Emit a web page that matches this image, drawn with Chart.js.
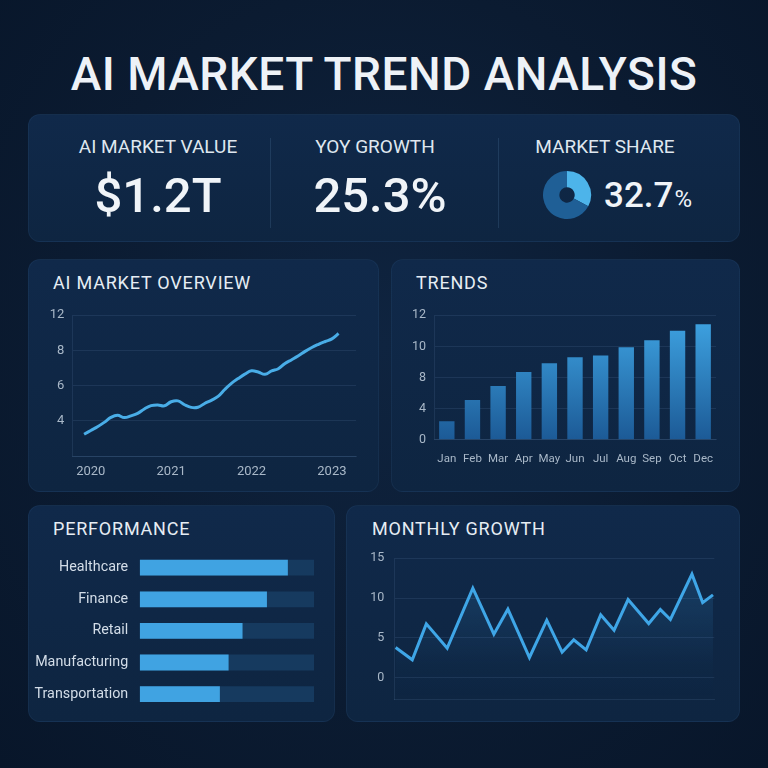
<!DOCTYPE html>
<html>
<head>
<meta charset="utf-8">
<script src="https://cdn.jsdelivr.net/npm/chart.js@4.4.1/dist/chart.umd.min.js"></script>
<style>
  html, body { margin: 0; padding: 0; }
  body {
    width: 768px; height: 768px; position: relative; overflow: hidden;
    background: radial-gradient(ellipse at 50% 45%, #0f2440 0%, #0b1b31 60%, #08162a 100%);
    font-family: Roboto, 'Noto Sans', sans-serif; color: #e9eef5;
  }
  .panel {
    position: absolute; box-sizing: border-box; border-radius: 12px;
    background: linear-gradient(180deg, #10294a 0%, #0e2541 100%);
    border: 1px solid rgba(120, 170, 220, 0.07);
  }
  .title {
    position: absolute; left: 0; top: 51px; width: 768px; text-align: center;
    font-size: 46px; line-height: 46px; font-weight: 500; letter-spacing: 0.5px; color: #eef2f7;
  }
  .ptitle { position: absolute; font-size: 18px; line-height: 18px; letter-spacing: 0.8px; color: #e6edf4; }
  .kpi-label { position: absolute; width: 240px; text-align: center; font-size: 19px; line-height: 19px; color: #dfe7ef; }
  .kpi-value { position: absolute; width: 240px; text-align: center; font-size: 49px; line-height: 49px; font-weight: 500; color: #f0f4f8; }
  .divider { position: absolute; width: 1px; top: 138px; height: 90px; background: rgba(120, 165, 210, 0.16); }
  .box { position: absolute; }
  .share { position: absolute; left: 604px; top: 178px; font-size: 35px; line-height: 35px; font-weight: 500; color: #f0f4f8; }
  .share small { font-size: 24px; font-weight: 400; margin-left: 1px; }
</style>
</head>
<body>
<div class="title">AI MARKET TREND ANALYSIS</div>

<div class="panel" style="left:28px; top:114px; width:712px; height:128px;"></div>
<div class="kpi-label" style="left:38px; top:137px;">AI MARKET VALUE</div>
<div class="kpi-value" style="left:38px; top:171px;">$1.2T</div>
<div class="divider" style="left:270px;"></div>
<div class="kpi-label" style="left:255px; top:137px;">YOY GROWTH</div>
<div class="kpi-value" style="left:260px; top:171px;">25.3%</div>
<div class="divider" style="left:498px;"></div>
<div class="kpi-label" style="left:485px; top:137px;">MARKET SHARE</div>
<div class="box" style="left:542px; top:170px; width:50px; height:50px;"><canvas id="share-chart"></canvas></div>
<div class="share">32.7<small>%</small></div>

<div class="panel" style="left:28px; top:259px; width:351px; height:233px;"></div>
<div class="ptitle" style="left:53px; top:274px;">AI MARKET OVERVIEW</div>
<div class="box" style="left:36px; top:300px; width:330px; height:190px;"><canvas id="overview-chart"></canvas></div>

<div class="panel" style="left:391px; top:259px; width:349px; height:233px;"></div>
<div class="ptitle" style="left:416px; top:274px;">TRENDS</div>
<div class="box" style="left:396px; top:300px; width:340px; height:190px;"><canvas id="trend-chart"></canvas></div>

<div class="panel" style="left:28px; top:505px; width:307px; height:217px;"></div>
<div class="ptitle" style="left:53px; top:520px;">PERFORMANCE</div>
<div class="box" style="left:30px; top:545px; width:300px; height:170px;"><canvas id="perf-chart"></canvas></div>

<div class="panel" style="left:346px; top:505px; width:394px; height:217px;"></div>
<div class="ptitle" style="left:372px; top:520px;">MONTHLY GROWTH</div>
<div class="box" style="left:350px; top:545px; width:386px; height:167px;"><canvas id="growth-chart"></canvas></div>

<script>
// ── DATA ─────────────────────────────────────────

const shareLabels = ['Share', 'Rest'];
const shareValues = [32.7, 67.3];

// monthly points, Dec 2019 .. Feb 2023
const overviewStartYear = 2019 + 11 / 12;
const overviewValues = [
  3.25, 3.46, 3.67, 3.92, 4.2, 4.32, 4.19, 4.29, 4.43, 4.68,
  4.87, 4.91, 4.86, 5.09, 5.14, 4.92, 4.77, 4.78, 4.99, 5.17,
  5.39, 5.78, 6.13, 6.4, 6.65, 6.84, 6.77, 6.64, 6.83, 6.96,
  7.26, 7.47, 7.69, 7.94, 8.32, 8.68, 9.0, 9.3, 9.9
];
const overviewYears = [2020, 2021, 2022, 2023];
const overviewTicks = [2, 4, 6, 8, 12];

const trendLabels = ['Jan', 'Feb', 'Mar', 'Apr', 'May', 'Jun', 'Jul', 'Aug', 'Sep', 'Oct', 'Dec'];
const trendValues = [2.36, 5.12, 6.92, 8.36, 8.92, 9.3, 9.42, 9.94, 10.4, 11.0, 11.42];
const trendTicks = [0, 4, 8, 10, 12];

const perfLabels = ['Healthcare', 'Finance', 'Retail', 'Manufacturing', 'Transportation'];
const perfValues = [85, 73, 59, 51, 46];
const perfMax = [100, 100, 100, 100, 100];

const growthX = [0, 1.26, 2.32, 3.9, 5.84, 7.43, 8.49, 10.12, 11.43, 12.59, 13.47,
  14.41, 15.51, 16.52, 17.58, 19.14, 20.02, 20.78, 22.41, 23.22, 24.0];
const growthValues = [3.77, 2.23, 6.75, 3.7, 11.24, 5.46, 8.6, 2.52, 7.22, 3.19, 4.74,
  3.48, 7.89, 5.96, 9.81, 6.79, 8.55, 7.3, 13.0, 9.43, 10.4];
const growthTicks = [0, 5, 10, 15];

// ── SETUP ────────────────────────────────────────

const TICK_COLOR = '#a9b8c8';
const GRID_COLOR = 'rgba(120,165,210,0.13)';

Chart.defaults.font.family = 'Roboto';
Chart.defaults.animation = false;
Chart.defaults.responsive = true;
Chart.defaults.maintainAspectRatio = false;
Chart.defaults.plugins.legend.display = false;
Chart.defaults.plugins.tooltip.enabled = false;

// evenly spaced axis with uneven tick values (as in the reference axes)
class PiecewiseScale extends Chart.LinearScale {
  static id = 'piecewise';
  static defaults = Chart.LinearScale.defaults;

  determineDataLimits() {
    const b = this.options.breaks;
    this.min = b[0];
    this.max = b[b.length - 1];
  }

  buildTicks() {
    return this.options.breaks.map(v => ({ value: v }));
  }

  _frac(v) {
    const b = this.options.breaks;
    const n = b.length - 1;
    if (v <= b[0]) return 0;
    for (let i = 0; i < n; i++) {
      if (v <= b[i + 1]) return (i + (v - b[i]) / (b[i + 1] - b[i])) / n;
    }
    return 1;
  }

  getPixelForValue(v) {
    return this.getPixelForDecimal(this._frac(v));
  }

  getValueForPixel(p) {
    const b = this.options.breaks;
    const n = b.length - 1;
    const f = this.getDecimalForPixel(p) * n;
    const i = Math.min(Math.max(Math.floor(f), 0), n - 1);
    return b[i] + (f - i) * (b[i + 1] - b[i]);
  }
}
Chart.register(PiecewiseScale);

function tickFont(size) {
  return { family: 'Roboto', size };
}

// fixed axis width, no extra label overflow padding (layout padding decides)
function fixWidth(w) {
  return s => {
    s.width = w;
    s.paddingTop = 0;
    s.paddingBottom = 0;
  };
}

// ── MARKET SHARE DONUT ───────────────────────────

new Chart(document.getElementById('share-chart'), {
  type: 'doughnut',
  data: {
    labels: shareLabels,
    datasets: [{
      data: shareValues,
      backgroundColor: ['#4db4ea', '#1f5f96'],
      borderWidth: 0
    }]
  },
  options: {
    cutout: '32%',
    layout: { padding: 1 }
  }
});

// ── AI MARKET OVERVIEW ───────────────────────────

new Chart(document.getElementById('overview-chart'), {
  type: 'line',
  data: {
    datasets: [{
      data: overviewValues.map((v, i) => ({ x: overviewStartYear + i / 12, y: v })),
      borderColor: '#49ade7',
      borderWidth: 3,
      pointRadius: 0,
      tension: 0.4
    }]
  },
  options: {
    layout: { padding: { top: 15, right: 10, left: 0, bottom: 0 } },
    scales: {
      x: {
        type: 'linear',
        min: 2019.77,
        max: 2023.3,
        afterBuildTicks: s => { s.ticks = overviewYears.map(v => ({ value: v })); },
        afterFit: s => { s.height = 33.7; },
        ticks: { color: TICK_COLOR, font: tickFont(13), padding: 8, callback: v => String(v) },
        grid: { display: false, drawTicks: false },
        border: { color: GRID_COLOR }
      },
      y: {
        type: 'piecewise',
        breaks: overviewTicks,
        afterFit: fixWidth(36.3),
        ticks: { color: TICK_COLOR, font: tickFont(13), padding: 8, callback: v => v === overviewTicks[0] ? '' : String(v) },
        grid: { color: GRID_COLOR, drawTicks: false },
        border: { color: GRID_COLOR }
      }
    }
  }
});

// ── TRENDS ───────────────────────────────────────

new Chart(document.getElementById('trend-chart'), {
  type: 'bar',
  data: {
    labels: trendLabels,
    datasets: [{
      data: trendValues,
      backgroundColor: ctx => {
        const area = ctx.chart.chartArea;
        if (!area) return '#2c83c6';
        const g = ctx.chart.ctx.createLinearGradient(0, area.bottom, 0, area.top);
        g.addColorStop(0, '#1c5a96');
        g.addColorStop(1, '#3fa5e4');
        return g;
      },
      borderWidth: 0,
      barPercentage: 0.6,
      categoryPercentage: 1
    }]
  },
  options: {
    layout: { padding: { top: 15.3, right: 20, left: 0, bottom: 0 } },
    scales: {
      x: {
        afterFit: s => { s.height = 50.3; },
        ticks: { color: TICK_COLOR, font: tickFont(11.5), padding: 12.5, maxRotation: 0, autoSkip: false },
        grid: { display: false, drawTicks: false },
        border: { color: GRID_COLOR }
      },
      y: {
        type: 'piecewise',
        breaks: trendTicks,
        afterFit: fixWidth(38),
        ticks: { color: TICK_COLOR, font: tickFont(12.5), padding: 8, callback: v => String(v) },
        grid: { color: GRID_COLOR, drawTicks: false },
        border: { color: GRID_COLOR }
      }
    }
  }
});

// ── PERFORMANCE ──────────────────────────────────

new Chart(document.getElementById('perf-chart'), {
  type: 'bar',
  data: {
    labels: perfLabels,
    datasets: [
      {
        data: perfValues,
        backgroundColor: '#40a3e2',
        barPercentage: 0.5,
        categoryPercentage: 1,
        grouped: false,
        order: 0
      },
      {
        data: perfMax,
        backgroundColor: '#163a5f',
        barPercentage: 0.5,
        categoryPercentage: 1,
        grouped: false,
        order: 1
      }
    ]
  },
  options: {
    indexAxis: 'y',
    layout: { padding: { top: 6.9, right: 16, left: 0, bottom: 5.1 } },
    scales: {
      x: { min: 0, max: 100, display: false },
      y: {
        afterFit: fixWidth(109.7),
        ticks: { color: '#d3dde8', font: tickFont(14.3), padding: 11.5 },
        grid: { display: false, drawTicks: false },
        border: { display: false }
      }
    }
  }
});

// ── MONTHLY GROWTH ───────────────────────────────

new Chart(document.getElementById('growth-chart'), {
  type: 'line',
  data: {
    datasets: [{
      data: growthValues.map((v, i) => ({ x: growthX[i], y: v })),
      borderColor: '#3fa6e7',
      borderWidth: 3,
      pointRadius: 0,
      tension: 0,
      fill: 'start',
      backgroundColor: ctx => {
        const area = ctx.chart.chartArea;
        if (!area) return 'rgba(60,160,230,0.1)';
        const g = ctx.chart.ctx.createLinearGradient(0, area.top, 0, area.bottom);
        g.addColorStop(0, 'rgba(60,160,230,0.22)');
        g.addColorStop(0.75, 'rgba(60,160,230,0.02)');
        g.addColorStop(1, 'rgba(60,160,230,0)');
        return g;
      }
    }]
  },
  options: {
    layout: { padding: { top: 13.3, right: 21.7, left: 0, bottom: 13 } },
    scales: {
      x: {
        type: 'linear',
        min: -0.1,
        max: 24.1,
        afterFit: s => { s.height = 0; },
        ticks: { display: false },
        grid: { display: false, drawTicks: false },
        border: { color: GRID_COLOR }
      },
      y: {
        min: -2.7,
        max: 15,
        afterBuildTicks: s => { s.ticks = growthTicks.map(v => ({ value: v })); },
        afterFit: fixWidth(44.3),
        ticks: { color: TICK_COLOR, font: tickFont(12.5), padding: 10 },
        grid: { color: GRID_COLOR, drawTicks: false },
        border: { color: GRID_COLOR }
      }
    }
  }
});
</script>
</body>
</html>
